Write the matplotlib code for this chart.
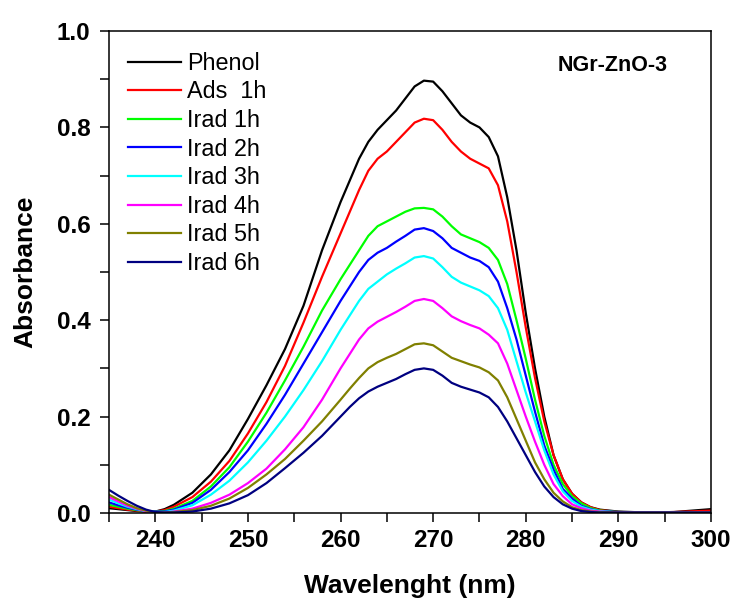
import matplotlib.pyplot as plt
import numpy as np
from matplotlib.ticker import MultipleLocator

plt.rcParams['font.family'] = ['Liberation Sans', 'DejaVu Sans']

# longitud de onda (nm)
wl = [235, 236, 237, 238, 239, 240, 241, 242, 244, 246, 248, 250, 252, 254, 256, 258,
      260, 261, 262, 263, 264, 265, 266, 267, 268, 269, 270, 271, 272, 273, 274, 275,
      276, 277, 278, 279, 280, 281, 282, 283, 284, 285, 286, 287, 288, 290, 293, 296, 300]

phenol = [0.010, 0.008, 0.006, 0.004, 0.003, 0.003, 0.008, 0.017, 0.042, 0.080, 0.130, 0.195, 0.265, 0.340, 0.430, 0.545,
          0.645, 0.690, 0.735, 0.770, 0.795, 0.815, 0.835, 0.860, 0.885, 0.897, 0.895, 0.875, 0.850, 0.825, 0.810, 0.800,
          0.780, 0.740, 0.655, 0.545, 0.415, 0.300, 0.200, 0.120, 0.070, 0.040, 0.022, 0.012, 0.007, 0.003, 0.001, 0.002, 0.008]
ads1 = [0.013, 0.010, 0.007, 0.005, 0.003, 0.003, 0.006, 0.013, 0.033, 0.065, 0.108, 0.165, 0.230, 0.305, 0.395, 0.490,
        0.580, 0.625, 0.670, 0.710, 0.735, 0.750, 0.770, 0.790, 0.810, 0.818, 0.815, 0.795, 0.770, 0.750, 0.735, 0.725,
        0.715, 0.680, 0.605, 0.500, 0.385, 0.280, 0.190, 0.120, 0.070, 0.040, 0.022, 0.012, 0.006, 0.002, 0.001, 0.002, 0.005]
irad1 = [0.017, 0.013, 0.009, 0.006, 0.004, 0.003, 0.004, 0.009, 0.025, 0.055, 0.095, 0.148, 0.208, 0.275, 0.345, 0.420,
         0.485, 0.515, 0.545, 0.575, 0.595, 0.605, 0.615, 0.625, 0.632, 0.633, 0.630, 0.615, 0.595, 0.578, 0.570, 0.562,
         0.550, 0.525, 0.475, 0.400, 0.320, 0.235, 0.160, 0.100, 0.060, 0.035, 0.020, 0.010, 0.005, 0.002, 0.001, 0.001, 0.001]
irad2 = [0.022, 0.016, 0.011, 0.007, 0.004, 0.003, 0.003, 0.007, 0.021, 0.048, 0.085, 0.130, 0.185, 0.245, 0.310, 0.375,
         0.440, 0.470, 0.500, 0.525, 0.540, 0.550, 0.563, 0.575, 0.588, 0.591, 0.585, 0.570, 0.550, 0.540, 0.530, 0.523,
         0.510, 0.480, 0.425, 0.360, 0.285, 0.210, 0.140, 0.090, 0.050, 0.030, 0.015, 0.008, 0.004, 0.002, 0.001, 0.001, 0.001]
irad3 = [0.028, 0.020, 0.013, 0.008, 0.004, 0.002, 0.002, 0.005, 0.016, 0.038, 0.067, 0.105, 0.150, 0.200, 0.255, 0.315,
         0.380, 0.410, 0.440, 0.465, 0.480, 0.495, 0.507, 0.518, 0.530, 0.533, 0.528, 0.510, 0.490, 0.478, 0.470, 0.462,
         0.450, 0.425, 0.380, 0.315, 0.250, 0.190, 0.130, 0.080, 0.045, 0.025, 0.013, 0.007, 0.004, 0.001, 0.001, 0.001, 0.001]
irad4 = [0.033, 0.024, 0.015, 0.009, 0.004, 0.001, 0.001, 0.003, 0.009, 0.021, 0.038, 0.062, 0.092, 0.132, 0.178, 0.235,
         0.300, 0.330, 0.360, 0.383, 0.397, 0.407, 0.417, 0.428, 0.440, 0.444, 0.440, 0.425, 0.408, 0.398, 0.390, 0.383,
         0.370, 0.352, 0.310, 0.255, 0.200, 0.148, 0.100, 0.060, 0.035, 0.018, 0.010, 0.005, 0.003, 0.001, 0.001, 0.001, 0.001]
irad5 = [0.038, 0.028, 0.018, 0.010, 0.005, 0.001, 0.001, 0.002, 0.006, 0.015, 0.030, 0.052, 0.080, 0.112, 0.150, 0.190,
         0.235, 0.258, 0.280, 0.300, 0.313, 0.322, 0.330, 0.340, 0.350, 0.352, 0.348, 0.335, 0.322, 0.315, 0.308, 0.302,
         0.292, 0.275, 0.240, 0.195, 0.150, 0.105, 0.070, 0.042, 0.024, 0.012, 0.006, 0.003, 0.002, 0.001, 0.001, 0.001, 0.001]
irad6 = [0.048, 0.036, 0.025, 0.015, 0.007, 0.002, 0.001, 0.001, 0.003, 0.009, 0.020, 0.037, 0.062, 0.093, 0.125, 0.160,
         0.200, 0.220, 0.238, 0.252, 0.262, 0.270, 0.278, 0.288, 0.297, 0.300, 0.297, 0.285, 0.270, 0.262, 0.256, 0.250,
         0.240, 0.220, 0.190, 0.155, 0.120, 0.085, 0.055, 0.033, 0.018, 0.009, 0.004, 0.002, 0.001, 0.001, 0.001, 0.001, 0.001]

nombres = ['Phenol', 'Ads  1h', 'Irad 1h', 'Irad 2h', 'Irad 3h', 'Irad 4h', 'Irad 5h', 'Irad 6h']
colores = ['#000000', '#ff0000', '#00ff00', '#0000ff', '#00ffff', '#ff00ff', '#808000', '#000080']
series = [phenol, ads1, irad1, irad2, irad3, irad4, irad5, irad6]

fig = plt.figure(figsize=(7.34, 5.99), dpi=100)
ax = fig.add_axes([109/734, 1-513/599, 602/734, 482/599])

for s, c, n in zip(series, colores, nombres):
    ax.plot(wl, s, color=c, lw=1.6, label=n)

ax.set_xlim(235, 300)
ax.set_ylim(0, 1.0)
ax.xaxis.set_major_locator(MultipleLocator(10))
ax.xaxis.set_minor_locator(MultipleLocator(5))
ax.yaxis.set_major_locator(MultipleLocator(0.2))
ax.yaxis.set_minor_locator(MultipleLocator(0.1))
ax.yaxis.set_major_formatter(plt.FormatStrFormatter('%.1f'))

ax.tick_params(which='major', direction='out', length=6.5, width=1.1, labelsize=17.5)
ax.tick_params(axis='x', which='major', pad=5)
ax.tick_params(axis='y', which='major', pad=7)
ax.tick_params(which='minor', direction='out', length=6.5, width=1.1)
for lab in ax.get_xticklabels() + ax.get_yticklabels():
    lab.set_fontweight('bold')
for sp in ax.spines.values():
    sp.set_linewidth(1.1)

ax.set_xlabel('Wavelenght (nm)', fontsize=19, fontweight='bold', labelpad=16)
ax.set_ylabel('Absorbance', fontsize=19, fontweight='bold', labelpad=14)

ax.text(0.837, 0.929, 'NGr-ZnO-3', transform=ax.transAxes, ha='center', va='center',
        fontsize=15.5, fontweight='bold')

ax.legend(loc='upper left', bbox_to_anchor=(0.031, 0.957), frameon=False, fontsize=16.8,
          handlelength=2.3, handletextpad=0.26, labelspacing=0.24, borderpad=0, borderaxespad=0)

fig.savefig('out.png', dpi=100)
